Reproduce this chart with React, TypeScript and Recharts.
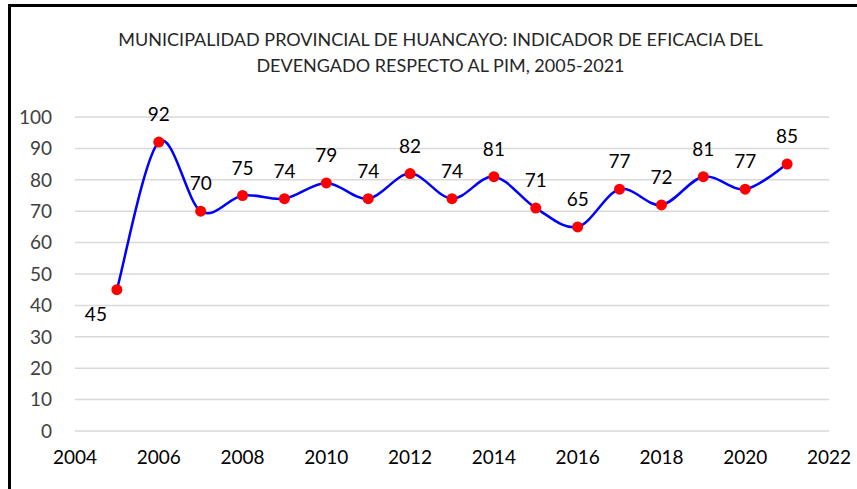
import React from 'react';
import { LineChart, Line, XAxis, YAxis, CartesianGrid, LabelList } from 'recharts';

const years = [2005, 2006, 2007, 2008, 2009, 2010, 2011, 2012, 2013, 2014, 2015, 2016, 2017, 2018, 2019, 2020, 2021];
const eficacia = [45, 92, 70, 75, 74, 79, 74, 82, 74, 81, 71, 65, 77, 72, 81, 77, 85];
const xTicks = [2004, 2006, 2008, 2010, 2012, 2014, 2016, 2018, 2020, 2022];
const yTicks = [0, 10, 20, 30, 40, 50, 60, 70, 80, 90, 100];
const titleLines = [
  'MUNICIPALIDAD PROVINCIAL DE HUANCAYO: INDICADOR DE EFICACIA DEL',
  'DEVENGADO RESPECTO AL PIM, 2005-2021',
];

const data = years.map((year, i) => ({ year, v: eficacia[i] }));

const FONT = 'Lato, "Open Sans", sans-serif';

// smoothing like Excel's "smoothed line" (Catmull-Rom style bezier)
const excelSmooth = (context: any) => {
  let pts: [number, number][] = [];
  return {
    areaStart() {},
    areaEnd() {},
    lineStart() {
      pts = [];
    },
    lineEnd() {
      if (!pts.length) return;
      context.moveTo(pts[0][0], pts[0][1]);
      for (let i = 0; i < pts.length - 1; i++) {
        const p0 = pts[Math.max(i - 1, 0)];
        const p1 = pts[i];
        const p2 = pts[i + 1];
        const p3 = pts[Math.min(i + 2, pts.length - 1)];
        context.bezierCurveTo(
          p1[0] + (p2[0] - p0[0]) / 6,
          p1[1] + (p2[1] - p0[1]) / 6,
          p2[0] - (p3[0] - p1[0]) / 6,
          p2[1] - (p3[1] - p1[1]) / 6,
          p2[0],
          p2[1]
        );
      }
    },
    point(x: number, y: number) {
      pts.push([x, y]);
    },
  };
};

const renderLabel = (props: any) => {
  const { x, y, value, index } = props;
  const first = index === 0;
  return (
    <text
      x={first ? x - 21 : x}
      y={first ? y + 31 : y - 21}
      textAnchor="middle"
      fontFamily={FONT}
      fontSize={19}
      fill="#000"
    >
      {value}
    </text>
  );
};

export default function App() {
  return (
    <div style={{ position: 'absolute', left: 0, top: 0, width: 857, height: 489, background: '#fff', overflow: 'hidden' }}>
      <div
        style={{
          position: 'absolute',
          left: 8,
          top: 4,
          width: 900,
          height: 500,
          borderLeft: '3px solid #000',
          borderTop: '3px solid #000',
        }}
      />
      <svg width={857} height={90} style={{ position: 'absolute', left: 0, top: 0 }}>
        {titleLines.map((t, i) => (
          <text key={i} x={440.5} y={46 + i * 26} textAnchor="middle" fontFamily={FONT} fontSize={18} fill="#262626">
            {t}
          </text>
        ))}
      </svg>
      <div style={{ position: 'absolute', left: 0, top: 0 }}>
        <LineChart width={857} height={489} data={data} margin={{ top: 117, right: 28, left: 15, bottom: 18 }}>
          <CartesianGrid vertical={false} stroke="#d9d9d9" strokeWidth={1.5} />
          <XAxis
            dataKey="year"
            type="number"
            domain={[2004, 2022]}
            ticks={xTicks}
            interval={0}
            axisLine={false}
            tickLine={false}
            height={40}
            tickMargin={14}
            tick={{ fontFamily: FONT, fontSize: 19, fill: '#000' }}
          />
          <YAxis
            domain={[0, 100]}
            ticks={yTicks}
            interval={0}
            axisLine={false}
            tickLine={false}
            width={60}
            tickMargin={17}
            tick={{ fontFamily: FONT, fontSize: 19, fill: '#404040' }}
          />
          <Line
            dataKey="v"
            type={excelSmooth as any}
            stroke="#0000ff"
            strokeWidth={2.5}
            dot={{ r: 5.5, fill: '#ff0000', stroke: '#ff0000', strokeWidth: 0 }}
            activeDot={false}
            isAnimationActive={false}
          >
            <LabelList dataKey="v" content={renderLabel} />
          </Line>
        </LineChart>
      </div>
    </div>
  );
}
